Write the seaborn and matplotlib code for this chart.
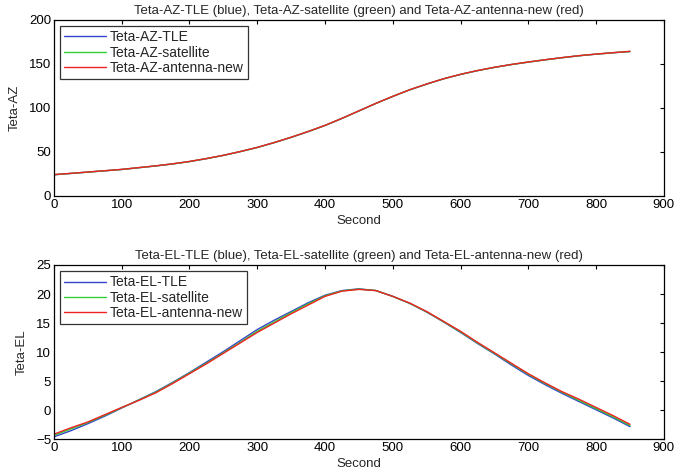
import matplotlib
matplotlib.use("Agg")
import matplotlib.pyplot as plt
import seaborn as sns
import pandas as pd

# Azimuth data
t_az = [0, 25, 50, 75, 100, 125, 150, 175, 200, 225, 250, 275, 300, 325, 350, 375, 400, 425,
        450, 475, 500, 525, 550, 575, 600, 625, 650, 675, 700, 725, 750, 775, 800, 825, 850]
az_tle = [24, 25.5, 27, 28.5, 30, 32, 34, 36.3, 39, 42.3, 46, 50.3, 55, 60.5, 66.5, 73, 80, 88,
          96.5, 105, 113, 120.5, 127, 133, 138, 142.3, 146, 149.2, 152, 154.6, 157, 159.2, 161, 162.6, 164]
az_sat = [24, 25.5, 27, 28.5, 30, 32, 34, 36.3, 39, 42.3, 46, 50.3, 55, 60.5, 66.5, 73, 80, 88,
          96.5, 105, 113, 120.5, 127, 133, 138, 142.3, 146, 149.2, 152, 154.6, 157, 159.2, 161, 162.6, 164]
az_ant = [24.2, 25.6, 27.1, 28.6, 30.1, 32.1, 34.1, 36.4, 39.1, 42.4, 46.1, 50.4, 55.1, 60.6, 66.6, 73.1, 80.1, 88.1,
          96.6, 105.1, 113.1, 120.6, 127.1, 133.1, 138.1, 142.4, 146.1, 149.3, 152.1, 154.7, 157.1, 159.3, 161.1, 162.7, 164.2]

# Elevation data
t_el = [0, 25, 50, 75, 100, 125, 150, 175, 200, 225, 250, 275, 300, 325, 350, 375, 400, 425,
        450, 475, 500, 525, 550, 575, 600, 625, 650, 675, 700, 725, 750, 775, 800, 825, 850]
el_tle = [-4.55, -3.5, -2.3, -1.0, 0.4, 1.8, 3.2, 4.8, 6.5, 8.3, 10.1, 12.0, 13.9, 15.5, 17.0, 18.5, 19.8, 20.6,
          20.9, 20.6, 19.6, 18.4, 16.9, 15.2, 13.4, 11.5, 9.7, 7.8, 6.0, 4.4, 2.9, 1.5, 0.1, -1.3, -2.8]
el_sat = [-4.3, -3.2, -2.1, -0.85, 0.45, 1.75, 3.1, 4.7, 6.4, 8.1, 9.9, 11.7, 13.6, 15.2, 16.8, 18.3, 19.7, 20.55,
          20.85, 20.6, 19.6, 18.4, 16.95, 15.25, 13.5, 11.6, 9.8, 8.0, 6.2, 4.6, 3.1, 1.7, 0.3, -1.1, -2.6]
el_ant = [-4.1, -3.0, -2.0, -0.75, 0.5, 1.7, 3.0, 4.6, 6.3, 8.0, 9.8, 11.6, 13.4, 15.0, 16.6, 18.1, 19.6, 20.5,
          20.8, 20.6, 19.6, 18.45, 17.0, 15.3, 13.6, 11.7, 9.9, 8.1, 6.3, 4.7, 3.2, 1.9, 0.5, -0.9, -2.4]

sns.set_style("white")
plt.rcParams['font.family'] = ['Liberation Sans', 'DejaVu Sans']
plt.rcParams['font.size'] = 9.5

fig = plt.figure(figsize=(6.74, 4.72), dpi=100)
ax1 = fig.add_axes([0.080, 0.585, 0.905, 0.373])
ax2 = fig.add_axes([0.080, 0.069, 0.905, 0.3696])

colors = ['#3344cc', '#33cc33', '#ee2222']


def draw(ax, t, series, names, ylim, yticks, ylabel, title):
    for vals, name, c in zip(series, names, colors):
        df = pd.DataFrame({'Second': t, 'v': vals})
        sns.lineplot(data=df, x='Second', y='v', ax=ax, color=c, lw=1.0, label=name)
    ax.set_xlim(0, 900)
    ax.set_ylim(*ylim)
    ax.set_xticks(range(0, 901, 100))
    ax.set_yticks(yticks)
    ax.set_xlabel('Second', labelpad=3)
    ax.set_ylabel(ylabel, labelpad=6)
    ax.set_title(title, fontsize=9.5, pad=4)
    ax.tick_params(direction='in', top=True, right=True, length=3, width=0.8,
                   labelsize=9.5, pad=2, colors='black')
    for s in ax.spines.values():
        s.set_color('black')
        s.set_linewidth(0.9)
    leg = ax.legend(loc='upper left', frameon=True, fancybox=False, fontsize=10,
                    borderaxespad=0.45, handlelength=3.0, handletextpad=0.3,
                    labelspacing=0.1, borderpad=0.3)
    leg.get_frame().set_edgecolor('black')
    leg.get_frame().set_linewidth(0.9)


draw(ax1, t_az, [az_tle, az_sat, az_ant],
     ['Teta-AZ-TLE', 'Teta-AZ-satellite', 'Teta-AZ-antenna-new'],
     (0, 200), range(0, 201, 50), 'Teta-AZ',
     'Teta-AZ-TLE (blue), Teta-AZ-satellite (green) and Teta-AZ-antenna-new (red)')
draw(ax2, t_el, [el_tle, el_sat, el_ant],
     ['Teta-EL-TLE', 'Teta-EL-satellite', 'Teta-EL-antenna-new'],
     (-5, 25), range(-5, 26, 5), 'Teta-EL',
     'Teta-EL-TLE (blue), Teta-EL-satellite (green) and Teta-EL-antenna-new (red)')

fig.savefig('out.png', dpi=100)
